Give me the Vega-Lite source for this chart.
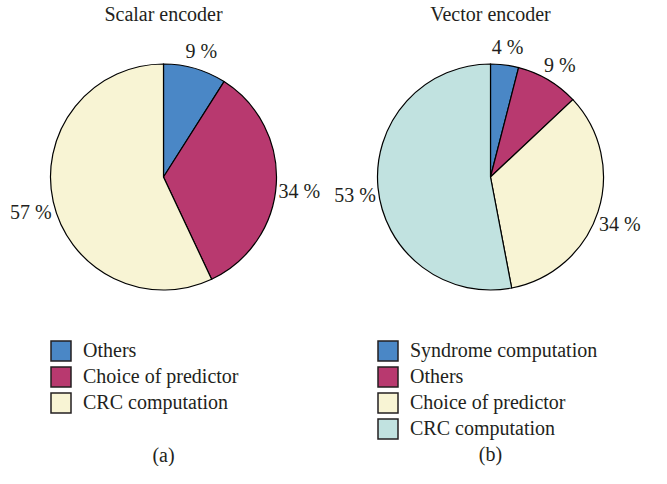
{
  "$schema": "https://vega.github.io/schema/vega-lite/v6.json",
  "padding": {"top": 5, "left": 0, "right": 0, "bottom": 0},
  "spacing": 0,
  "background": "white",
  "config": {
    "view": {"stroke": null},
    "font": "Liberation Serif",
    "title": {"font": "Liberation Serif", "fontSize": 20, "fontWeight": "normal", "color": "#231f20"},
    "legend": {
      "orient": "none", "legendX": 50, "legendY": 310, "title": null,
      "symbolType": "square", "symbolSize": 400, "symbolStrokeColor": "#231f20", "symbolStrokeWidth": 1.5,
      "symbolOpacity": 1, "labelFont": "Liberation Serif", "labelFontSize": 20, "labelColor": "#231f20",
      "rowPadding": 0, "labelOffset": 11, "padding": 0, "labelLimit": 400
    }
  },
  "hconcat": [
    {
      "title": {"text": "(a)", "orient": "bottom", "anchor": "middle", "offset": 30},
      "vconcat": [
        {
          "title": {"text": "Scalar encoder", "offset": 5},
          "width": 327,
          "height": 294,
          "data": {"values": [
            {"cat": "Others", "value": 9, "pct": "9 %", "i": 1},
            {"cat": "Choice of predictor", "value": 34, "pct": "34 %", "i": 2},
            {"cat": "CRC computation", "value": 57, "pct": "57 %", "i": 3}
          ]},
          "layer": [
            {
              "mark": {"type": "arc", "outerRadius": 113, "stroke": "#000000", "strokeWidth": 1.2},
              "encoding": {
                "theta": {"field": "value", "type": "quantitative", "stack": true},
                "order": {"field": "i", "type": "quantitative"},
                "color": {
                  "field": "cat", "type": "nominal", "sort": null,
                  "scale": {"domain": ["Others", "Choice of predictor", "CRC computation"], "range": ["#4a87c6", "#b8396f", "#f8f4d4"]}
                }
              }
            },
            {
              "mark": {"type": "text", "radius": 136, "dy": 6, "fontSize": 20, "color": "#231f20", "font": "Liberation Serif"},
              "encoding": {
                "theta": {"field": "value", "type": "quantitative", "stack": true},
                "order": {"field": "i", "type": "quantitative"},
                "detail": {"field": "cat", "type": "nominal"},
                "text": {"field": "pct", "type": "nominal"}
              }
            }
          ]
        }
      ]
    },
    {
      "title": {"text": "(b)", "orient": "bottom", "anchor": "middle", "offset": 3},
      "vconcat": [
        {
          "title": {"text": "Vector encoder", "offset": 5},
          "width": 327,
          "height": 294,
          "data": {"values": [
            {"cat": "Syndrome computation", "value": 4, "pct": "4 %", "i": 1},
            {"cat": "Others", "value": 9, "pct": "9 %", "i": 2},
            {"cat": "Choice of predictor", "value": 34, "pct": "34 %", "i": 3},
            {"cat": "CRC computation", "value": 53, "pct": "53 %", "i": 4}
          ]},
          "layer": [
            {
              "mark": {"type": "arc", "outerRadius": 113, "stroke": "#000000", "strokeWidth": 1.2},
              "encoding": {
                "theta": {"field": "value", "type": "quantitative", "stack": true},
                "order": {"field": "i", "type": "quantitative"},
                "color": {
                  "field": "cat", "type": "nominal", "sort": null,
                  "scale": {"domain": ["Syndrome computation", "Others", "Choice of predictor", "CRC computation"], "range": ["#4a87c6", "#b8396f", "#f8f4d4", "#c1e2e0"]}
                }
              }
            },
            {
              "mark": {"type": "text", "radius": 136, "dy": 6, "fontSize": 20, "color": "#231f20", "font": "Liberation Serif"},
              "encoding": {
                "theta": {"field": "value", "type": "quantitative", "stack": true},
                "order": {"field": "i", "type": "quantitative"},
                "detail": {"field": "cat", "type": "nominal"},
                "text": {"field": "pct", "type": "nominal"}
              }
            }
          ]
        }
      ]
    }
  ],
  "resolve": {"scale": {"color": "independent", "theta": "independent"}, "legend": {"color": "independent"}}
}
